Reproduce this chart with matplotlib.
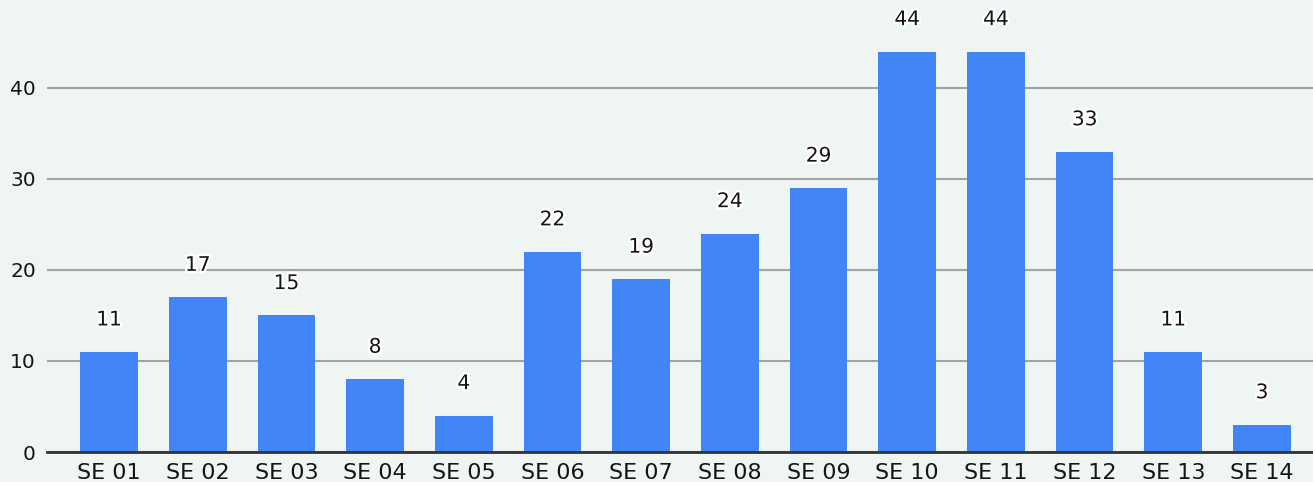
import matplotlib.pyplot as plt
import matplotlib.patheffects as pe
import numpy as np

weeks = ['SE 01', 'SE 02', 'SE 03', 'SE 04', 'SE 05', 'SE 06', 'SE 07',
         'SE 08', 'SE 09', 'SE 10', 'SE 11', 'SE 12', 'SE 13', 'SE 14']
counts = [11, 17, 15, 8, 4, 22, 19, 24, 29, 44, 44, 33, 11, 3]
y_ticks = [0, 10, 20, 30, 40]

BG = '#eff6f2'
BLUE = '#4285f4'
TEXT = '#151515'

fig = plt.figure(figsize=(13.13, 4.82), dpi=100, facecolor=BG)
ax = fig.add_axes([47 / 1313, 30 / 482, 1 - 47 / 1313, 1 - 30 / 482])
ax.set_facecolor(BG)

ind = np.arange(len(weeks))
ax.bar(ind, counts, 0.65, color=BLUE, zorder=3)

for x, v in zip(ind, counts):
    ax.annotate(str(v), (x, v), xytext=(0, 23), textcoords='offset points',
                ha='center', va='center', fontsize=14.5, color=TEXT, zorder=4,
                path_effects=[pe.withStroke(linewidth=3.5, foreground='white')])

ax.set_xlim(-0.70, len(weeks) - 1 + 0.575)
ax.set_ylim(0, 49.67)
ax.set_xticks(ind)
ax.set_xticklabels(weeks, fontsize=16, color=TEXT)
ax.set_yticks(y_ticks)
ax.set_yticklabels([str(t) for t in y_ticks], fontsize=14.5, color=TEXT)
ax.tick_params(axis='x', length=0, pad=8)
ax.tick_params(axis='y', length=0, pad=8)

ax.grid(axis='y', color='#a3a3a3', linewidth=1.5, zorder=1)
for side in ['top', 'right', 'left']:
    ax.spines[side].set_visible(False)
ax.spines['bottom'].set_color('#333333')
ax.spines['bottom'].set_linewidth(2)
ax.spines['bottom'].set_zorder(5)

fig.savefig('out.png', dpi=100, facecolor=BG)
